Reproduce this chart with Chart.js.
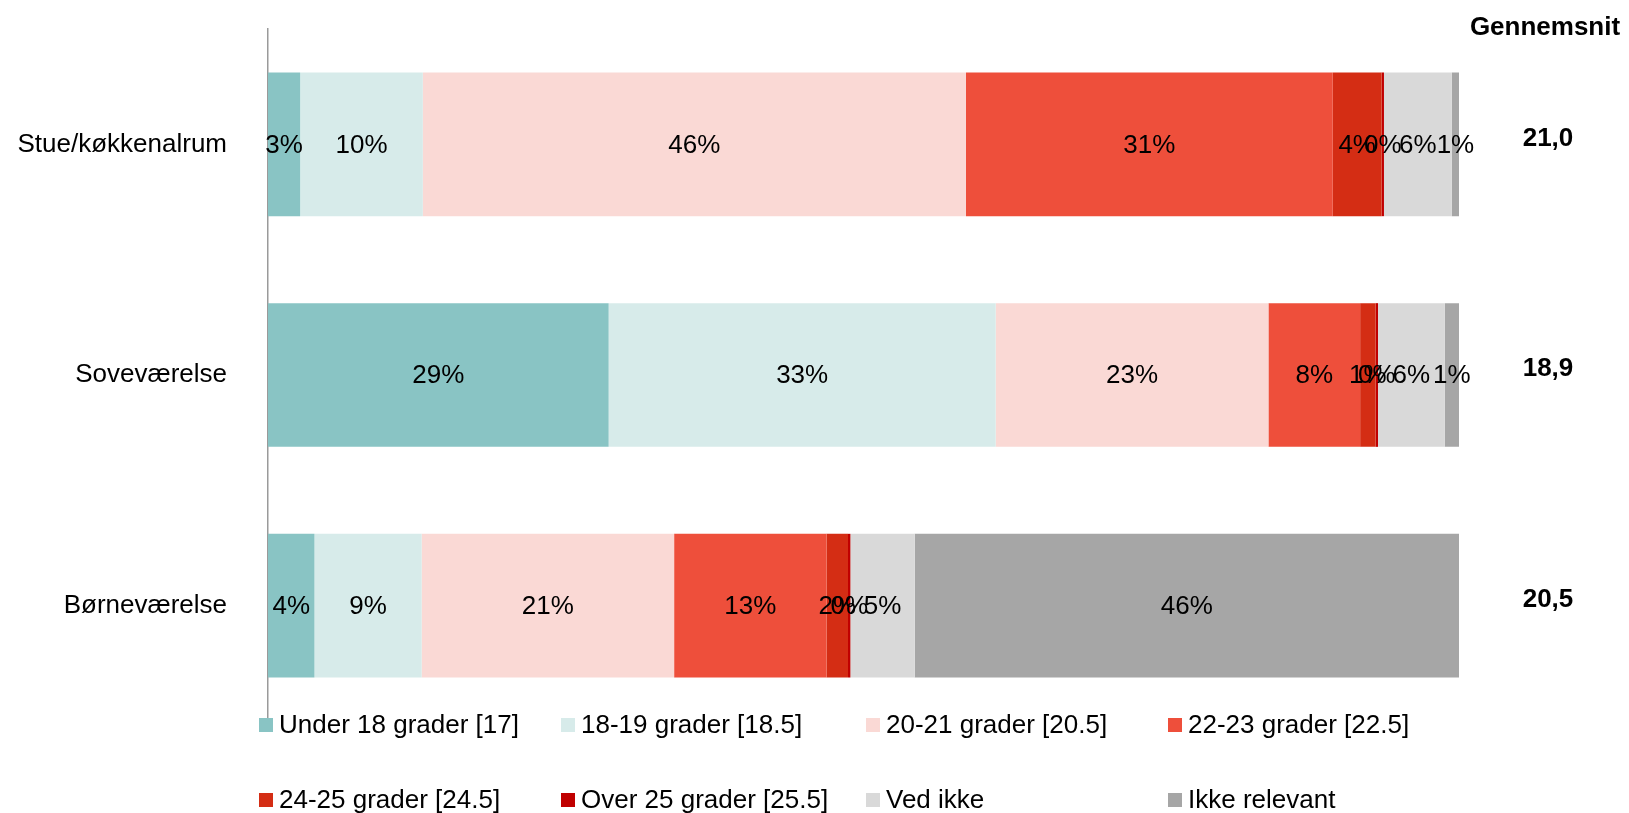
<!DOCTYPE html>
<html>
<head>
<meta charset="utf-8">
<script src="https://cdn.jsdelivr.net/npm/chart.js@4/dist/chart.umd.min.js"></script>
<style>
  html, body { margin: 0; padding: 0; background: #fff; }
  #wrap { width: 1629px; height: 813px; position: relative; }
</style>
</head>
<body>
<div id="wrap"><canvas id="tempChart"></canvas></div>
<script>
// Rum (kategorier)
const rooms = ['Stue/køkkenalrum', 'Soveværelse', 'Børneværelse'];

// Andele i procent pr. svarkategori
const under18 = [2.7, 28.6, 3.9];
const g18_19 = [10.3, 32.5, 9.0];
const g20_21 = [45.6, 22.9, 21.2];
const g22_23 = [30.8, 7.7, 12.8];
const g24_25 = [4.1, 1.3, 1.8];
const over25 = [0.2, 0.2, 0.2];
const vedIkke = [5.7, 5.6, 5.4];
const ikkeRelevant = [0.6, 1.2, 45.7];

// Gennemsnitstemperatur pr. rum
const averages = ['21,0', '18,9', '20,5'];

const seriesNames = [
  'Under 18 grader [17]', '18-19 grader [18.5]', '20-21 grader [20.5]', '22-23 grader [22.5]',
  '24-25 grader [24.5]', 'Over 25 grader [25.5]', 'Ved ikke', 'Ikke relevant'
];
const seriesValues = [under18, g18_19, g20_21, g22_23, g24_25, over25, vedIkke, ikkeRelevant];
const seriesColors = ['#89c4c4', '#d7ebea', '#fad9d5', '#ee4f3b', '#d42d14', '#c00000', '#d9d9d9', '#a6a6a6'];

const FONT = 'Arial, "Liberation Sans", sans-serif';

// tekst midt i hvert segment
const segmentLabels = {
  id: 'segmentLabels',
  afterDatasetsDraw(chart) {
    const ctx = chart.ctx;
    ctx.save();
    ctx.font = '26px ' + FONT;
    ctx.fillStyle = '#000';
    ctx.textAlign = 'center';
    ctx.textBaseline = 'middle';
    chart.data.datasets.forEach((ds, i) => {
      chart.getDatasetMeta(i).data.forEach((bar, j) => {
        const p = bar.getProps(['x', 'y', 'base'], true);
        ctx.fillText(Math.round(ds.data[j]) + '%', (p.x + p.base) / 2, p.y + 1);
      });
    });
    ctx.restore();
  }
};

// gennemsnit til højre + egen legend i faste kolonner
const extras = {
  id: 'extras',
  afterDraw(chart) {
    const ctx = chart.ctx;
    const yScale = chart.scales.y;
    ctx.save();
    ctx.fillStyle = '#000';
    ctx.textAlign = 'center';
    ctx.textBaseline = 'middle';
    ctx.font = 'bold 26px ' + FONT;
    ctx.fillText('Gennemsnit', 1545, 28);
    averages.forEach((a, i) => {
      ctx.fillText(a, 1548, yScale.getPixelForValue(i) - 6);
    });

    ctx.font = '26px ' + FONT;
    ctx.textAlign = 'left';
    const cols = [259, 561, 866, 1168];
    const rows = [725, 800];
    seriesNames.forEach((name, i) => {
      const x = cols[i % 4];
      const y = rows[Math.floor(i / 4)];
      ctx.fillStyle = seriesColors[i];
      ctx.fillRect(x, y - 7, 14, 14);
      ctx.fillStyle = '#000';
      ctx.fillText(name, x + 20, y + 1);
    });
    ctx.restore();
  }
};

new Chart(document.getElementById('tempChart'), {
  type: 'bar',
  data: {
    labels: rooms,
    datasets: seriesNames.map((name, i) => ({
      label: name,
      data: seriesValues[i],
      backgroundColor: seriesColors[i],
      borderWidth: 0,
      barPercentage: 1,
      categoryPercentage: 0.623
    }))
  },
  options: {
    indexAxis: 'y',
    responsive: true,
    maintainAspectRatio: false,
    animation: false,
    layout: { padding: { left: 0, right: 170, top: 29, bottom: 92 } },
    plugins: {
      legend: { display: false },
      tooltip: { enabled: false }
    },
    scales: {
      x: {
        stacked: true,
        min: 0,
        max: 100,
        display: false
      },
      y: {
        stacked: true,
        grid: { display: false, drawTicks: false },
        border: { display: true, color: '#9a9a9a', width: 1.5 },
        ticks: {
          color: '#000',
          padding: 41,
          font: { size: 26, family: FONT }
        },
        afterFit(scale) {
          scale.width = 268;
          scale.paddingTop = 0;
          scale.paddingBottom = 0;
        }
      }
    }
  },
  plugins: [segmentLabels, extras]
});
</script>
</body>
</html>
